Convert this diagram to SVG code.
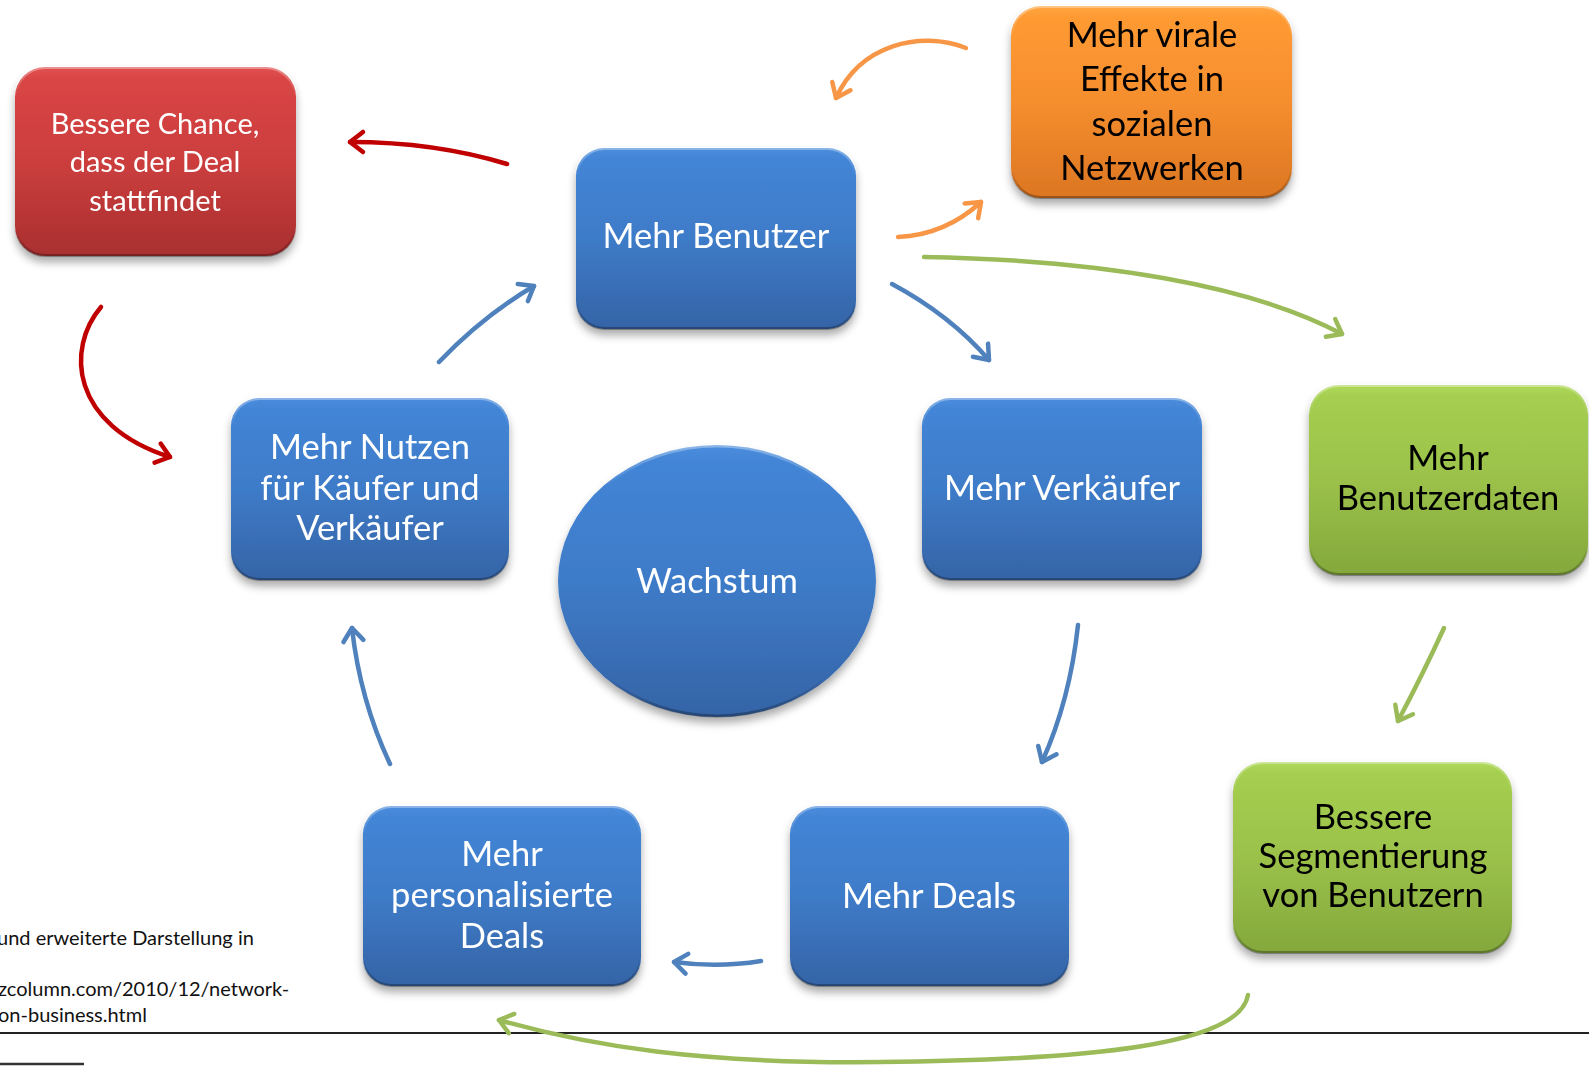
<svg xmlns="http://www.w3.org/2000/svg" width="1589" height="1066" viewBox="0 0 1589 1066">
  <style>
    .t { font-family: Lato, "Liberation Sans", sans-serif; text-anchor: middle; }
    .w { fill: #ffffff; font-size: 34.5px; }
    .k { fill: #000000; font-size: 34.5px; }
    .r { fill: #ffffff; font-size: 29px; }
    .note { font-family: Lato, "Liberation Sans", sans-serif; font-size: 20px; fill: #111111; }
    .box { filter: url(#shadow); }
    .conn path { fill: none; stroke-width: 4.5; stroke-linecap: round; }
    .blue { stroke: #4f81bd; marker-end: url(#hBlue); }
    .red { stroke: #c00000; marker-end: url(#hRed); }
    .orange { stroke: #f79646; marker-end: url(#hOrange); }
    .green { stroke: #9bbb59; marker-end: url(#hGreen); }
  </style>
  <defs>
    <linearGradient id="gBlue" x1="0" y1="0" x2="0" y2="1">
      <stop offset="0" stop-color="#4b8ddd"/>
      <stop offset="0.06" stop-color="#4385d6"/>
      <stop offset="0.5" stop-color="#3e7bc8"/>
      <stop offset="1" stop-color="#3564a6"/>
    </linearGradient>
    <linearGradient id="gRed" x1="0" y1="0" x2="0" y2="1">
      <stop offset="0" stop-color="#e25252"/>
      <stop offset="0.06" stop-color="#d94545"/>
      <stop offset="0.5" stop-color="#cc3e3e"/>
      <stop offset="1" stop-color="#a92f2f"/>
    </linearGradient>
    <linearGradient id="gOrange" x1="0" y1="0" x2="0" y2="1">
      <stop offset="0" stop-color="#ffa640"/>
      <stop offset="0.06" stop-color="#ff9a33"/>
      <stop offset="0.5" stop-color="#f58e2e"/>
      <stop offset="1" stop-color="#dc7622"/>
    </linearGradient>
    <linearGradient id="gGreen" x1="0" y1="0" x2="0" y2="1">
      <stop offset="0" stop-color="#b0d95c"/>
      <stop offset="0.06" stop-color="#a5cf50"/>
      <stop offset="0.5" stop-color="#9bc14a"/>
      <stop offset="1" stop-color="#84a83c"/>
    </linearGradient>
    <linearGradient id="edge" x1="0" y1="0" x2="0" y2="1">
      <stop offset="0" stop-color="#ffffff" stop-opacity="0.35"/>
      <stop offset="0.15" stop-color="#ffffff" stop-opacity="0"/>
      <stop offset="0.85" stop-color="#000000" stop-opacity="0"/>
      <stop offset="1" stop-color="#000000" stop-opacity="0.3"/>
    </linearGradient>
    <filter id="shadow" x="-10%" y="-10%" width="120%" height="130%">
      <feDropShadow dx="0" dy="6" stdDeviation="4" flood-color="#000000" flood-opacity="0.33"/>
    </filter>
    <marker id="hBlue" markerUnits="userSpaceOnUse" viewBox="-20 -14 26 28" markerWidth="26" markerHeight="28" refX="0" refY="0" orient="auto">
      <path d="M-13,-10 L0,0 L-13,10" fill="none" stroke="#4f81bd" stroke-width="4.5" stroke-linecap="round" stroke-linejoin="round"/>
    </marker>
    <marker id="hRed" markerUnits="userSpaceOnUse" viewBox="-20 -14 26 28" markerWidth="26" markerHeight="28" refX="0" refY="0" orient="auto">
      <path d="M-13,-10 L0,0 L-13,10" fill="none" stroke="#c00000" stroke-width="4.5" stroke-linecap="round" stroke-linejoin="round"/>
    </marker>
    <marker id="hOrange" markerUnits="userSpaceOnUse" viewBox="-20 -14 26 28" markerWidth="26" markerHeight="28" refX="0" refY="0" orient="auto">
      <path d="M-13,-10 L0,0 L-13,10" fill="none" stroke="#f79646" stroke-width="4.5" stroke-linecap="round" stroke-linejoin="round"/>
    </marker>
    <marker id="hGreen" markerUnits="userSpaceOnUse" viewBox="-20 -14 26 28" markerWidth="26" markerHeight="28" refX="0" refY="0" orient="auto">
      <path d="M-13,-10 L0,0 L-13,10" fill="none" stroke="#9bbb59" stroke-width="4.5" stroke-linecap="round" stroke-linejoin="round"/>
    </marker>
  </defs>

  <rect width="1589" height="1066" fill="#ffffff"/>

  <!-- source note and page rules -->
  <g id="footnote">
    <text class="note" x="-3" y="945">und erweiterte Darstellung in</text>
    <text class="note" x="-2" y="996">zcolumn.com/2010/12/network-</text>
    <text class="note" x="-2" y="1022">on-business.html</text>
    <line x1="0" y1="1033" x2="1589" y2="1033" stroke="#222222" stroke-width="2"/>
    <line x1="0" y1="1064" x2="84" y2="1064" stroke="#333333" stroke-width="2.5"/>
  </g>

  <g id="connectors" class="conn">
    <path class="red" d="M507,164 Q435,142 350,142"/>
    <path class="red" d="M101,307 C66,348 70,425 170,457"/>
    <path class="orange" d="M966,48 C920,30 860,45 836,98"/>
    <path class="orange" d="M898,237 Q945,235 981,202"/>
    <path class="green" d="M924,257 C1100,260 1250,285 1342,334"/>
    <path class="blue" d="M892,284 Q950,315 989,360"/>
    <path class="blue" d="M439,362 Q483,316 534,286"/>
    <path class="blue" d="M1078,625 Q1070,700 1042,762"/>
    <path class="blue" d="M761,961 Q718,968 674,962"/>
    <path class="blue" d="M390,764 Q360,700 352,628"/>
    <path class="green" d="M1444,628 Q1422,676 1398,721"/>
    <path class="green" d="M1248,995 C1240,1045 1090,1060 880,1062 C700,1064 590,1046 499,1020"/>
  </g>

  <g id="chance" class="box">
    <rect x="15" y="67" width="281" height="189" rx="30" fill="url(#gRed)"/>
    <rect x="15.5" y="67.5" width="280" height="188" rx="30" fill="none" stroke="url(#edge)" stroke-width="3"/>
    <text class="t r" x="155" y="134">Bessere Chance,</text>
    <text class="t r" x="155" y="172">dass der Deal</text>
    <text class="t r" x="155" y="211">stattfindet</text>
  </g>

  <g id="benutzer" class="box">
    <rect x="576" y="148" width="280" height="181" rx="28" fill="url(#gBlue)"/>
    <rect x="576.5" y="148.5" width="279" height="180" rx="28" fill="none" stroke="url(#edge)" stroke-width="3"/>
    <text class="t w" x="716" y="248">Mehr Benutzer</text>
  </g>

  <g id="viral" class="box">
    <rect x="1011" y="6" width="281" height="192" rx="30" fill="url(#gOrange)"/>
    <rect x="1011.5" y="6.5" width="280" height="191" rx="30" fill="none" stroke="url(#edge)" stroke-width="3"/>
    <text class="t k" x="1152" y="47">Mehr virale</text>
    <text class="t k" x="1152" y="91">Effekte in</text>
    <text class="t k" x="1152" y="136">sozialen</text>
    <text class="t k" x="1152" y="180">Netzwerken</text>
  </g>

  <g id="nutzen" class="box">
    <rect x="231" y="398" width="278" height="182" rx="28" fill="url(#gBlue)"/>
    <rect x="231.5" y="398.5" width="277" height="181" rx="28" fill="none" stroke="url(#edge)" stroke-width="3"/>
    <text class="t w" x="370" y="459">Mehr Nutzen</text>
    <text class="t w" x="370" y="500">für Käufer und</text>
    <text class="t w" x="370" y="540">Verkäufer</text>
  </g>

  <g id="wachstum" class="box">
    <ellipse cx="717" cy="581" rx="159" ry="136" fill="url(#gBlue)"/>
    <ellipse cx="717" cy="581" rx="158" ry="135" fill="none" stroke="url(#edge)" stroke-width="3"/>
    <text class="t w" x="717" y="593">Wachstum</text>
  </g>

  <g id="verkaeufer" class="box">
    <rect x="922" y="398" width="280" height="182" rx="28" fill="url(#gBlue)"/>
    <rect x="922.5" y="398.5" width="279" height="181" rx="28" fill="none" stroke="url(#edge)" stroke-width="3"/>
    <text class="t w" x="1062" y="500">Mehr Verkäufer</text>
  </g>

  <g id="benutzerdaten" class="box">
    <rect x="1309" y="385" width="279" height="190" rx="30" fill="url(#gGreen)"/>
    <rect x="1309.5" y="385.5" width="278" height="189" rx="30" fill="none" stroke="url(#edge)" stroke-width="3"/>
    <text class="t k" x="1448" y="470">Mehr</text>
    <text class="t k" x="1448" y="510">Benutzerdaten</text>
  </g>

  <g id="segmentierung" class="box">
    <rect x="1233" y="762" width="279" height="191" rx="30" fill="url(#gGreen)"/>
    <rect x="1233.5" y="762.5" width="278" height="190" rx="30" fill="none" stroke="url(#edge)" stroke-width="3"/>
    <text class="t k" x="1373" y="829">Bessere</text>
    <text class="t k" x="1373" y="868">Segmentierung</text>
    <text class="t k" x="1373" y="907">von Benutzern</text>
  </g>

  <g id="deals" class="box">
    <rect x="790" y="806" width="279" height="180" rx="28" fill="url(#gBlue)"/>
    <rect x="790.5" y="806.5" width="278" height="179" rx="28" fill="none" stroke="url(#edge)" stroke-width="3"/>
    <text class="t w" x="929" y="908">Mehr Deals</text>
  </g>

  <g id="personalisiert" class="box">
    <rect x="363" y="806" width="278" height="180" rx="28" fill="url(#gBlue)"/>
    <rect x="363.5" y="806.5" width="277" height="179" rx="28" fill="none" stroke="url(#edge)" stroke-width="3"/>
    <text class="t w" x="502" y="866">Mehr</text>
    <text class="t w" x="502" y="907">personalisierte</text>
    <text class="t w" x="502" y="948">Deals</text>
  </g>
</svg>
